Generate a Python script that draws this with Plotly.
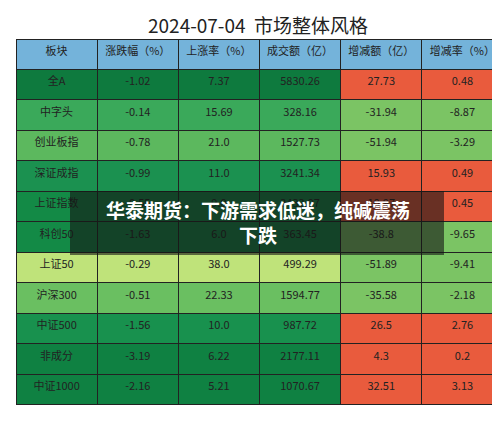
import plotly.graph_objects as go

headers = ["板块", "涨跌幅（%）", "上涨率（%）", "成交额（亿）", "增减额（亿）", "增减率（%）"]
sectors = ["全A", "中字头", "创业板指", "深证成指", "上证指数", "科创50", "上证50", "沪深300", "中证500", "非成分", "中证1000"]
change_pct = ["-1.02", "-0.14", "-0.78", "-0.99", "-0.55", "-1.63", "-0.29", "-0.51", "-1.56", "-3.19", "-2.16"]
up_ratio = ["7.37", "15.69", "21.0", "11.0", "9.0", "6.0", "38.0", "22.33", "10.0", "6.22", "5.21"]
turnover = ["5830.26", "328.16", "1527.73", "3241.34", "2432.97", "363.45", "499.29", "1594.77", "987.72", "2177.11", "1070.67"]
delta_amt = ["27.73", "-31.94", "-51.94", "15.93", "10.97", "-38.8", "-51.89", "-35.58", "26.5", "4.3", "32.51"]
delta_pct = ["0.48", "-8.87", "-3.29", "0.49", "0.45", "-9.65", "-9.41", "-2.18", "2.76", "0.2", "3.13"]

row_colors = ["#0e7a3e", "#3aa95a", "#5cb85e", "#1b9150", "#138a46", "#138a46",
              "#bfe37a", "#6abf61", "#18914e", "#0f8142", "#0f8142"]
RED, GREEN = "#e95b3d", "#7bc464"
right_colors = lambda vals: [RED if float(v) > 0 else GREEN for v in vals]

fills = [row_colors] * 4 + [right_colors(delta_amt), right_colors(delta_pct)]

fig = go.Figure(go.Table(
    domain=dict(x=[0.016, 0.99], y=[0, 0.928]),
    columnwidth=[1] * 6,
    header=dict(values=headers, fill_color="#74b3da", line_color="#222",
                align="center", height=30,
                font=dict(family="Noto Sans CJK SC", size=11, color="#222")),
    cells=dict(values=[sectors, change_pct, up_ratio, turnover, delta_amt, delta_pct],
               fill_color=fills, line_color="#222", align="center", height=30.5,
               font=dict(family="Noto Sans CJK SC", size=11, color="#222")),
))

fig.add_annotation(text="2024-07-04  市场整体风格", x=0.5, y=1 - 17 / 431, xref="paper", yref="paper",
                   yanchor="middle", showarrow=False,
                   font=dict(family="Noto Sans CJK SC", size=19, color="#222"))
fig.add_shape(type="rect", xref="paper", yref="paper", x0=62 / 500, x1=436 / 500,
              y0=1 - 247 / 431, y1=1 - 183 / 431, fillcolor="rgba(20,20,20,0.6)", line_width=0)
fig.add_annotation(text="<b>华泰期货：下游需求低迷，纯碱震荡</b><br><b>下跌</b>", x=0.5, y=1 - 214 / 431,
                   xref="paper", yref="paper", yanchor="middle", showarrow=False,
                   font=dict(family="Noto Sans CJK SC", size=19, color="white"))

fig.update_layout(width=500, height=431, margin=dict(l=0, r=0, t=0, b=0),
                  paper_bgcolor="white")
fig.write_html("out.html")
